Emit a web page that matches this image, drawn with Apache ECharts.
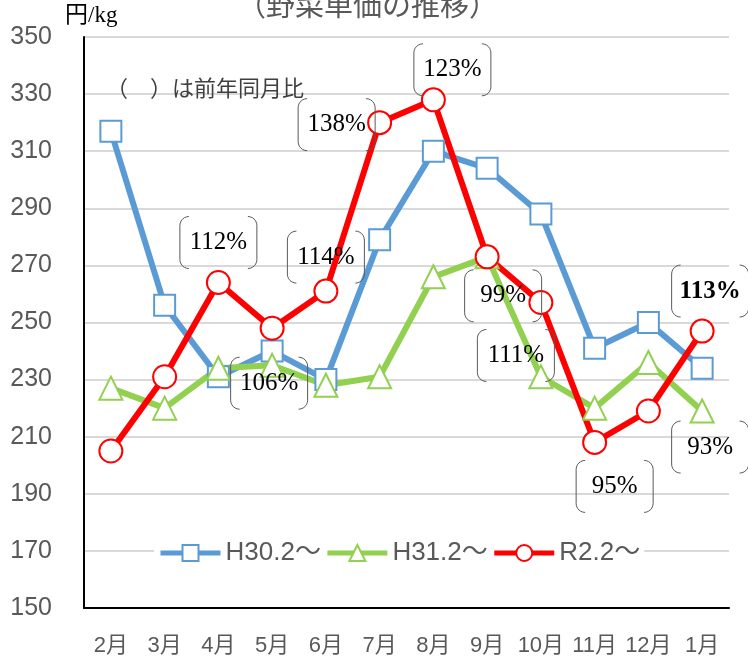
<!DOCTYPE html>
<html>
<head>
<meta charset="utf-8">
<script src="https://cdn.jsdelivr.net/npm/echarts@6/dist/echarts.min.js"></script>
<style>
  html, body { margin: 0; padding: 0; background: #fff; }
  #main { width: 748px; height: 658px; }
</style>
</head>
<body>
<div id="main"></div>
<script>
// 月（カテゴリ）
var months = ['2月', '3月', '4月', '5月', '6月', '7月', '8月', '9月', '10月', '11月', '12月', '1月'];
// 野菜単価 円/kg
var h30 = [317, 256, 231, 240, 230, 279, 310, 304, 288, 241, 250, 234];
var h31 = [227, 220, 234, 235, 228, 231, 266, 273, 231, 220, 236, 219];
var r2  = [205, 231, 264, 248, 261, 320, 328, 273, 257, 208, 219, 247];
// 前年同月比（どの月の点に付けるか）
var ratioIdx  = [2, 3, 4, 5, 6, 7, 8, 9, 11, 11];
var ratioText = ['112%', '106%', '114%', '138%', '123%', '99%', '111%', '95%', '93%', '113%'];

var myChart = echarts.init(document.getElementById('main'));
var sans = "'Liberation Sans', 'Noto Sans CJK JP', sans-serif";
var serif = "'Liberation Serif', 'DejaVu Serif', 'Noto Sans CJK JP', serif";

function lineSeries(name, data, color, symbol, size) {
    return {
        name: name,
        type: 'line',
        data: data,
        symbol: symbol,
        symbolSize: size,
        lineStyle: { color: color, width: 6 },
        itemStyle: { color: '#fff', borderColor: color, borderWidth: 2 },
        z: 3
    };
}

option = {
    backgroundColor: '#fff',
    animation: false,
    title: {
        text: '（野菜単価の推移）',
        left: 232,
        top: -15,
        textStyle: { color: '#595959', fontSize: 29, fontWeight: 'normal', fontFamily: "'Noto Sans CJK JP', sans-serif" }
    },
    grid: { left: 84, right: 19, top: 37, bottom: 50, containLabel: false },
    legend: {
        left: 154,
        top: 538,
        itemWidth: 60,
        itemHeight: 20,
        itemGap: 4,
        backgroundColor: '#fff',
        padding: [2, 4],
        lineStyle: { width: 5 },
        textStyle: { color: '#595959', fontSize: 26, fontFamily: sans },
        data: ['H30.2～', 'H31.2～', 'R2.2～']
    },
    xAxis: {
        type: 'category',
        data: months,
        axisLine: { lineStyle: { color: '#000', width: 2 } },
        axisTick: { show: false },
        axisLabel: { color: '#595959', fontSize: 22, margin: 27, interval: 0, fontFamily: sans }
    },
    yAxis: {
        type: 'value',
        min: 150,
        max: 350,
        interval: 20,
        axisLine: { show: true, lineStyle: { color: '#000', width: 2 } },
        axisTick: { show: false },
        axisLabel: { color: '#595959', fontSize: 25, margin: 32, fontFamily: sans },
        splitLine: { lineStyle: { color: '#d9d9d9', width: 2 } }
    },
    series: [
        lineSeries('H30.2～', h30, '#5b9bd5', 'rect', 21),
        lineSeries('H31.2～', h31, '#92d050', 'triangle', 23),
        lineSeries('R2.2～', r2, '#ff0000', 'circle', 23)
    ]
};
myChart.setOption(option);

// 括弧ラベルの点からのずらし量（ラベル順）
var offsets = [[0, -40], [-3, 55], [0, -34], [-43, 2], [19, -30],
               [16, 39], [-25, 53], [20, 44], [8, 116], [8, -40]];
var boxW = 77, boxH = 52, rr = 9;

// 括弧の角を丸める点列
function bracket(x, y0, y1, dir) {
    var pts = [];
    var n = 6, a, t;
    for (t = 0; t <= n; t++) {
        a = Math.PI / 2 * t / n;
        pts.push([x + dir * rr * (1 - Math.sin(a)), y0 + rr * (1 - Math.cos(a))]);
    }
    for (t = 0; t <= n; t++) {
        a = Math.PI / 2 * t / n;
        pts.push([x + dir * rr * (1 - Math.cos(a)), y1 - rr + rr * Math.sin(a)]);
    }
    return pts;
}

var elements = [];
elements.push({
    type: 'text', x: 65, y: 4,
    style: { text: '円/kg', fill: '#000', fontSize: 23, fontFamily: serif }
});
elements.push({
    type: 'text', x: 106, y: 77,
    style: { text: '（　）は前年同月比', fill: '#404040', fontSize: 22, fontFamily: "'Noto Sans CJK JP', sans-serif" }
});
for (var i = 0; i < ratioIdx.length; i++) {
    var k = ratioIdx[i];
    var p = myChart.convertToPixel({ seriesIndex: 2 }, [k, r2[k]]);
    var off = offsets[i];
    var cx = p[0] + off[0], cy = p[1] + off[1];
    var x0 = cx - boxW / 2, x1 = cx + boxW / 2, y0 = cy - boxH / 2, y1 = cy + boxH / 2;
    elements.push({
        type: 'polyline', z: 10,
        shape: { points: bracket(x0, y0, y1, 1) },
        style: { fill: null, stroke: '#595959', lineWidth: 1 }
    });
    elements.push({
        type: 'polyline', z: 10,
        shape: { points: bracket(x1, y0, y1, -1) },
        style: { fill: null, stroke: '#595959', lineWidth: 1 }
    });
    elements.push({
        type: 'text', z: 10, x: cx, y: cy,
        style: {
            text: ratioText[i], fill: '#000', fontSize: 25, fontFamily: serif,
            fontWeight: ratioText[i] === '113%' ? 'bold' : 'normal',
            align: 'center', verticalAlign: 'middle'
        }
    });
}
myChart.setOption({ graphic: { elements: elements } });
</script>
</body>
</html>
